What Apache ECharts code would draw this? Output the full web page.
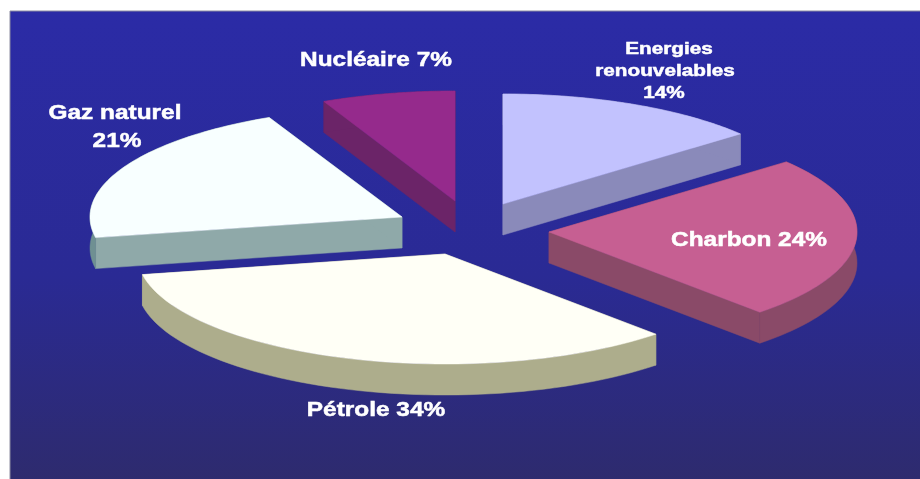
<!DOCTYPE html>
<html>
<head>
<meta charset="utf-8">
<style>
html,body{margin:0;padding:0;background:#fff}
#c{width:920px;height:479px;filter:blur(0.45px)}
</style>
<script src="https://cdn.jsdelivr.net/npm/echarts@6/dist/echarts.min.js"></script>
</head>
<body>
<div id="c"></div>
<script>
// Data
const categories = ['Energies renouvelables', 'Charbon', 'Pétrole', 'Gaz naturel', 'Nucléaire'];
const shares = [14, 24, 34, 21, 7];

// Appearance (not data)
const topColors = ['#c2c2fe', '#c65f92', '#fffff6', '#f8ffff', '#952a8c'];
const wallColors = ['#8a8aba', '#8a4a68', '#adad8c', '#8fa9a9', '#6b2468'];
const outerColors = ['#8a8aba', '#8a4a68', '#adad8c', '#6f9092', '#6b2468'];
const apexX = [503, 549, 445, 402, 455];
const apexY = [204, 232, 254, 217, 201];
const radiusX = [308, 308, 308, 312, 308];
const radiusY = 110, depth = 31;

const labelLines = [
  [['Energies', 669, 49, 17], ['renouvelables', 665, 71, 17], ['14%', 664, 93, 17]],
  [['Charbon 24%', 749, 240, 20]],
  [['Pétrole 34%', 376, 410, 20]],
  [['Gaz naturel', 115, 113, 20], ['21%', 117, 141, 20]],
  [['Nucléaire 7%', 376, 60, 20]]
];

const total = shares.reduce((a, b) => a + b, 0);

function renderItem(params, api) {
  const i = params.dataIndex;
  let before = 0;
  for (let k = 0; k < i; k++) before += shares[k];
  const a0 = before / total * Math.PI * 2;
  const a1 = (before + api.value(1)) / total * Math.PI * 2;
  const cx = apexX[i], cy = apexY[i];
  const arc = [];
  const n = 60;
  for (let s = 0; s <= n; s++) {
    const a = a0 + (a1 - a0) * s / n;
    arc.push([cx + radiusX[i] * Math.sin(a), cy - radiusY * Math.cos(a)]);
  }
  const down = p => [p[0], p[1] + depth];
  const apex = [cx, cy];
  const poly = (points, fill) => ({
    type: 'polygon', shape: { points }, style: { fill, stroke: fill, lineWidth: 0.5 }, silent: true
  });
  const children = [
    poly([apex, arc[0], down(arc[0]), down(apex)], wallColors[i]),
    poly([apex, arc[n], down(arc[n]), down(apex)], wallColors[i]),
    poly(arc.concat(arc.slice().reverse().map(down)), outerColors[i]),
    poly([apex].concat(arc), topColors[i])
  ];
  labelLines[i].forEach(l => {
    children.push({
      type: 'text', x: l[1], y: l[2], scaleX: 1.22, silent: true,
      style: {
        text: l[0], x: 0, y: 0, fill: '#ffffff', stroke: '#ffffff', lineWidth: 0.5,
        align: 'center', verticalAlign: 'middle',
        font: 'bold ' + l[3] + 'px "Liberation Sans", Arial, sans-serif'
      }
    });
  });
  return { type: 'group', children };
}

const chart = echarts.init(document.getElementById('c'), null, { renderer: 'canvas' });
chart.setOption({
  animation: false,
  backgroundColor: '#ffffff',
  tooltip: { show: false },
  graphic: [{
    type: 'rect', z: -10, silent: true,
    shape: { x: 10, y: 11, width: 920, height: 480 },
    style: {
      fill: new echarts.graphic.LinearGradient(0, 0, 0, 1, [
        { offset: 0, color: '#2b2ba6' },
        { offset: 0.55, color: '#2a2a94' },
        { offset: 1, color: '#2e2b6c' }
      ]),
      stroke: '#8c8ca0', lineWidth: 1
    }
  }],
  series: [{
    type: 'custom',
    coordinateSystem: 'none',
    renderItem,
    data: categories.map((c, i) => ({ name: c, value: [i, shares[i]] })),
    silent: true
  }]
});
</script>
</body>
</html>
